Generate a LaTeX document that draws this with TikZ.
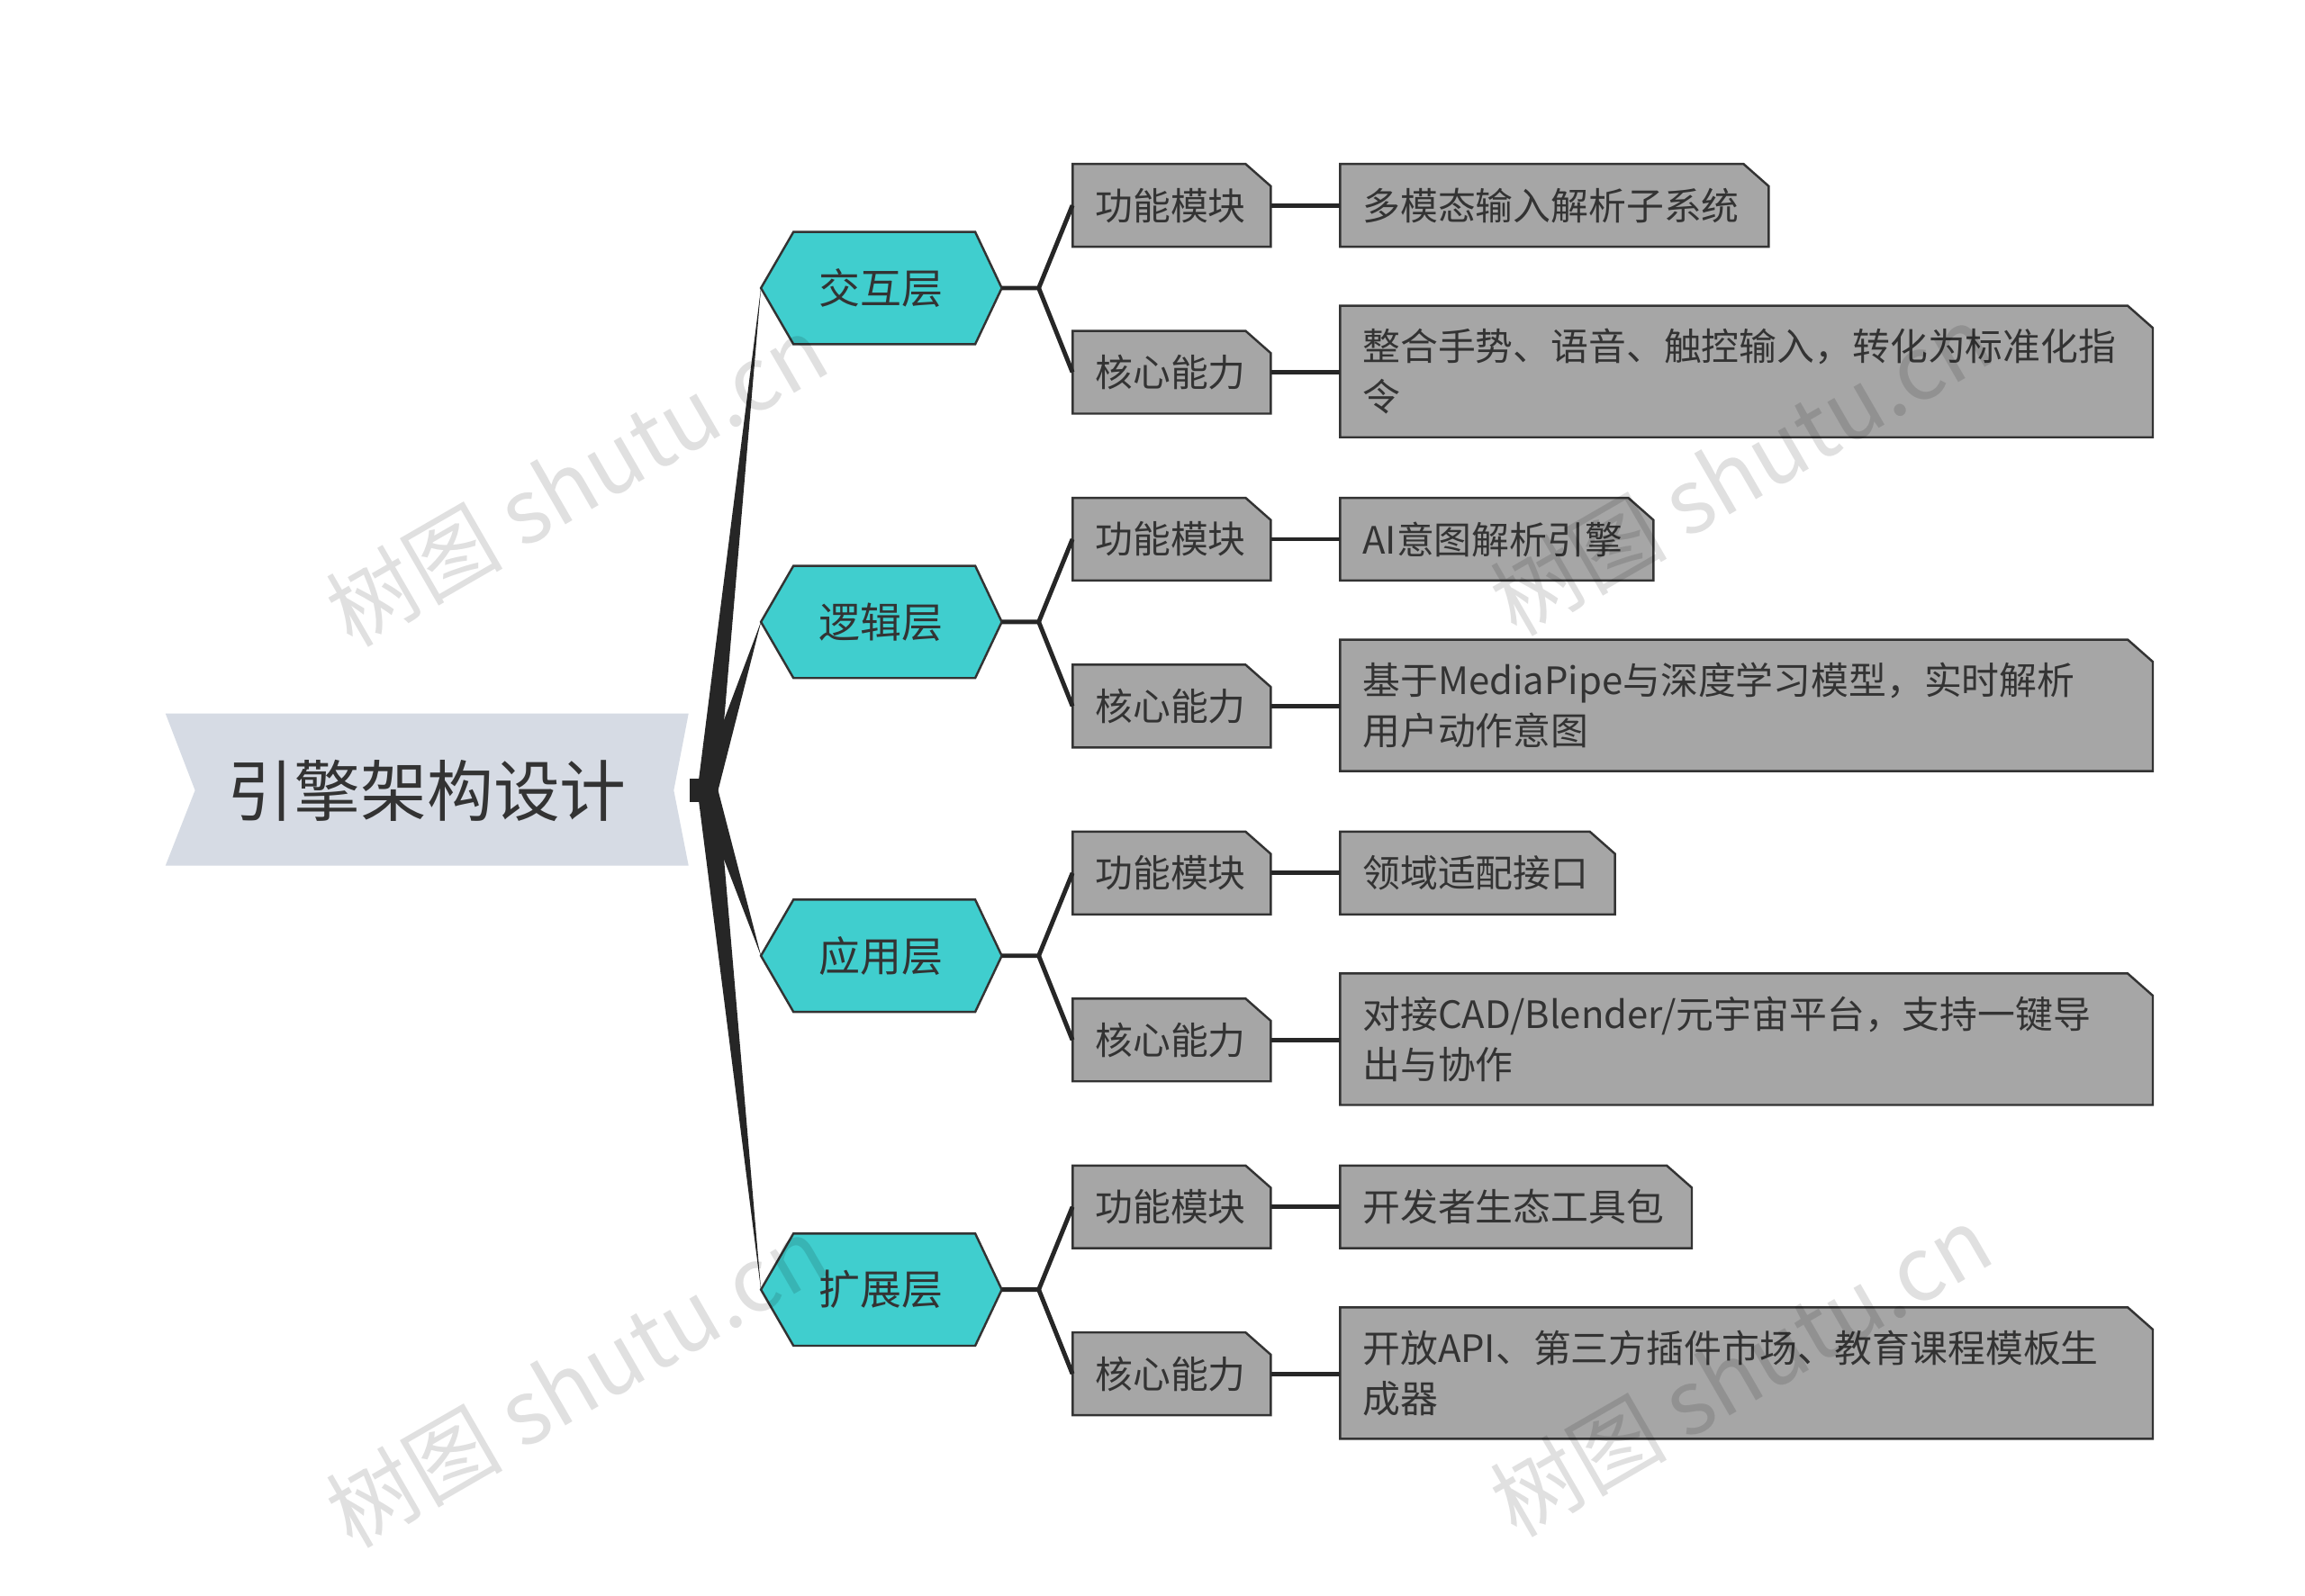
\documentclass[tikz,border=0pt]{standalone}
\usepackage{fontspec}
\setmainfont{Noto Sans CJK SC}
\usetikzlibrary{calc}
\begin{document}
\begin{tikzpicture}[x=1pt,y=-1pt,
  lnk/.style={draw=black!85,line width=3pt},
  bx/.style={draw=none,inner sep=0pt,rectangle},
  txt/.style={font=\fontsize{25.5}{34}\selectfont,text=black!80,align=left,anchor=west,inner sep=0pt},
  wm/.style={font=\fontsize{60}{64}\selectfont,text=black,text opacity=0.12,rotate=30}]
\useasboundingbox (0,0) rectangle (1560,1080);
\fill[white] (0,0) rectangle (1560,1080);
% root
\fill[fill={rgb,255:red,214;green,219;blue,228}] (112,483)--(466,483)--(456,535)--(466,586)--(112,586)--(132,535)--cycle;
\node[bx,minimum width=354,minimum height=103] (root) at (289,535) {};
\node[font=\fontsize{45}{50}\selectfont,text=black!80] at (289,535) {引擎架构设计};
\fill[black!85] (467,527) rectangle (480,543);
\coordinate (r0) at (479,535);
\newcommand\gbox[6]{%
  \draw[draw=black!80,line width=1.5pt,fill={rgb,255:red,166;green,166;blue,166}]
   (#2,#3)--(#4-17,#3)--(#4,#3+15)--(#4,#5)--(#2,#5)--cycle;
  \node[bx,minimum width=#4-#2,minimum height=#5-#3] (#1) at ({(#2+#4)/2},{(#3+#5)/2}) {};
  \node[txt] at (#2+15,{(#3+#5)/2}) {#6};}
\foreach \i/\lab/\la/\lb/\lbw/\lbh/\lbx in {
  0/交互层/多模态输入解析子系统/{整合手势、语音、触控输入，转化为标准化指\\令}/1197/0/1457,
  1/逻辑层/AI意图解析引擎/{基于MediaPipe与深度学习模型，实时解析\\用户动作意图}/1119/0/1457,
  2/应用层/领域适配接口/{对接CAD/Blender/元宇宙平台，支持一键导\\出与协作}/1093/0/1457,
  3/扩展层/开发者生态工具包/{开放API、第三方插件市场、教育课程模板生\\成器}/1145/0/1457}{
  \pgfmathsetmacro\hy{195+226*\i}
  \pgfmathsetmacro\cy{139+226*\i}
  \pgfmathsetmacro\dy{252+226*\i}
  % tapered branch
  \fill[black!85] (479,527) -- (515,\hy) -- (479,543) -- cycle;
  \fill[black!85] (472,535) -- (515,\hy) -- (486,535) -- cycle;
  % hexagon
  \draw[draw=black!80,line width=1.5pt,fill={rgb,255:red,64;green,206;blue,206}]
    (515,\hy)--(537,\hy-38)--(660,\hy-38)--(678,\hy)--(660,\hy+38)--(537,\hy+38)--cycle;
  \node[bx,minimum width=163,minimum height=76] (h\i) at (596.5,\hy) {};
  \node[font=\fontsize{28}{30}\selectfont,text=black!80] at (596,\hy) {\lab};
  \gbox{a\i}{726}{\cy-28}{860}{\cy+28}{功能模块}
  \gbox{b\i}{726}{\dy-28}{860}{\dy+28}{核心能力}
  \gbox{la\i}{907}{\cy-28}{\lbw}{\cy+28}{\la}
  \gbox{lb\i}{907}{\dy-45}{\lbx}{\dy+44}{\lb}
  \coordinate (j\i) at (703,\hy);
  \draw[lnk] (h\i.east)--(j\i)--(a\i.west);
  \draw[lnk] (j\i)--(b\i.west);
  \draw[lnk] (a\i.east)--(la\i.west|-a\i.east);
  \draw[lnk] (b\i.east)--(lb\i.west|-b\i.east);
}
% watermarks
\node[wm] at (390,325) {树图 shutu.cn};
\node[wm] at (1178,318) {树图 shutu.cn};
\node[wm] at (390,935) {树图 shutu.cn};
\node[wm] at (1178,928) {树图 shutu.cn};
\end{tikzpicture}
\end{document}
